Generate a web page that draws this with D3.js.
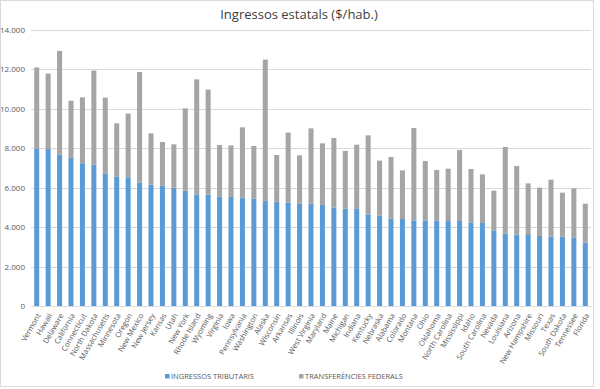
<!DOCTYPE html>
<html>
<head>
<meta charset="utf-8">
<script src="https://cdn.jsdelivr.net/npm/d3@7"></script>
<style>
  body { margin: 0; background: #fff; }
  text { font-family: "Open Sans", "Noto Sans", sans-serif; fill: #595959; }
</style>
</head>
<body>
<div id="chart"></div>
<script>
// Data
//-----
var states = ["Vermont", "Hawaii", "Delaware", "California", "Connecticut", "North Dakota",
  "Massachusetts", "Minnesota", "Oregon", "New Mexico", "New Jersey", "Kansas", "Utah",
  "New York", "Rhode Island", "Wyoming", "Virginia", "Iowa", "Pennsylvania", "Washington",
  "Alaska", "Wisconsin", "Arkansas", "Illinois", "West Virginia", "Maryland", "Maine",
  "Michigan", "Indiana", "Kentucky", "Nebraska", "Alabama", "Colorado", "Montana", "Ohio",
  "Oklahoma", "North Carolina", "Mississippi", "Idaho", "South Carolina", "Nevada",
  "Louisiana", "Arizona", "New Hampshire", "Missouri", "Texas", "South Dakota",
  "Tennessee", "Florida"];

// tax revenue per capita
var tributaris = [7970, 7960, 7690, 7510, 7240, 7170, 6730, 6550, 6530, 6260, 6150, 6100,
  6000, 5850, 5660, 5650, 5560, 5530, 5505, 5445, 5330, 5290, 5250, 5205, 5190, 5125,
  5000, 4937, 4921, 4645, 4595, 4440, 4414, 4343, 4343, 4328, 4312, 4312, 4241, 4211,
  3836, 3668, 3617, 3602, 3551, 3531, 3516, 3480, 3212];

// totals (tax + federal transfers)
var totals = [12100, 11790, 12940, 10415, 10585, 11940, 10570, 9265, 9757, 11870, 8758,
  8320, 8200, 10027, 11497, 10974, 8168, 8148, 9062, 8117, 12496, 7661, 8793, 7641, 9011,
  8250, 8524, 7864, 8184, 8656, 7372, 7559, 6880, 9031, 7356, 6900, 6966, 7915, 6950,
  6677, 5850, 8067, 7103, 6220, 6002, 6408, 5748, 5968, 5190];

var federals = totals.map((t, i) => t - tributaris[i]);

var yTicks = [0, 2000, 4000, 6000, 8000, 10000, 12000, 14000];
var seriesNames = ["INGRESSOS TRIBUTARIS", "TRANSFERÈNCIES FEDERALS"];
var colors = ["#5b9bd5", "#a5a5a5"];

// Sizing parameters
//------------------
var svgWidth = 600;
var svgHeight = 389;
var margin = { top: 30, right: 9, bottom: 83, left: 31 };
var width = svgWidth - margin.left - margin.right;
var height = svgHeight - margin.top - margin.bottom;

var svg = d3.select("#chart")
  .append("svg")
  .attr("width", svgWidth)
  .attr("height", svgHeight);

// chart border
svg.append("rect")
  .attr("x", 0.5).attr("y", 0.5)
  .attr("width", 593).attr("height", 386)
  .attr("fill", "none")
  .attr("stroke", "#d9d9d9");

var chartGroup = svg.append("g")
  .attr("transform", `translate(${margin.left}, ${margin.top})`);

// Scales
//-------
var xScale = d3.scaleBand()
  .domain(states)
  .range([0, width])
  .paddingInner(0.56)
  .paddingOuter(0.28);

var yScale = d3.scaleLinear()
  .domain([0, 14000])
  .range([height, 0]);

// gridlines
chartGroup.append("g")
  .selectAll("line")
  .data(yTicks)
  .enter()
  .append("line")
  .attr("x1", 0)
  .attr("x2", width)
  .attr("y1", d => Math.round(yScale(d)) + 0.5)
  .attr("y2", d => Math.round(yScale(d)) + 0.5)
  .attr("stroke", "#d9d9d9")
  .attr("stroke-width", 1);

// y axis labels
var leftAxis = d3.axisLeft(yScale)
  .tickValues(yTicks)
  .tickSize(0)
  .tickPadding(6)
  .tickFormat(d => d3.format(",")(d).replace(/,/g, "."));

var yAxis = chartGroup.append("g").call(leftAxis);
yAxis.select(".domain").remove();
yAxis.selectAll("text")
  .attr("font-size", 8)
  .style("fill", "#595959");

// stacked bars
var stackData = states.map((s, i) => ({ state: s, trib: tributaris[i], fed: federals[i] }));
var stack = d3.stack().keys(["trib", "fed"]);
var layers = stack(stackData);

chartGroup.selectAll(".layer")
  .data(layers)
  .enter()
  .append("g")
  .attr("fill", (d, i) => colors[i])
  .selectAll("rect")
  .data(d => d)
  .enter()
  .append("rect")
  .attr("x", d => xScale(d.data.state))
  .attr("width", xScale.bandwidth())
  .attr("y", d => yScale(d[1]))
  .attr("height", d => yScale(d[0]) - yScale(d[1]));

// x axis
var bottomAxis = d3.axisBottom(xScale).tickSize(0).tickPadding(0);
var xAxis = chartGroup.append("g")
  .attr("transform", `translate(0, ${height})`)
  .call(bottomAxis);
xAxis.select(".domain")
  .attr("stroke", "#d9d9d9");
xAxis.selectAll("text")
  .attr("font-size", 7.6)
  .style("fill", "#595959")
  .style("text-anchor", "end")
  .attr("dy", "0.35em")
  .attr("transform", "translate(2, 8) rotate(-60)");

// title
svg.append("text")
  .attr("x", 299)
  .attr("y", 19)
  .attr("text-anchor", "middle")
  .attr("font-size", 13)
  .style("fill", "#404040")
  .text("Ingressos estatals ($/hab.)");

// legend
var legendX = [165, 299];
var legend = svg.append("g");
seriesNames.forEach(function(name, i) {
  legend.append("rect")
    .attr("x", legendX[i])
    .attr("y", 374)
    .attr("width", 4.5)
    .attr("height", 4.5)
    .attr("fill", colors[i]);
  legend.append("text")
    .attr("x", legendX[i] + 6)
    .attr("y", 379)
    .attr("font-size", 7.5)
    .text(name);
});
</script>
</body>
</html>
